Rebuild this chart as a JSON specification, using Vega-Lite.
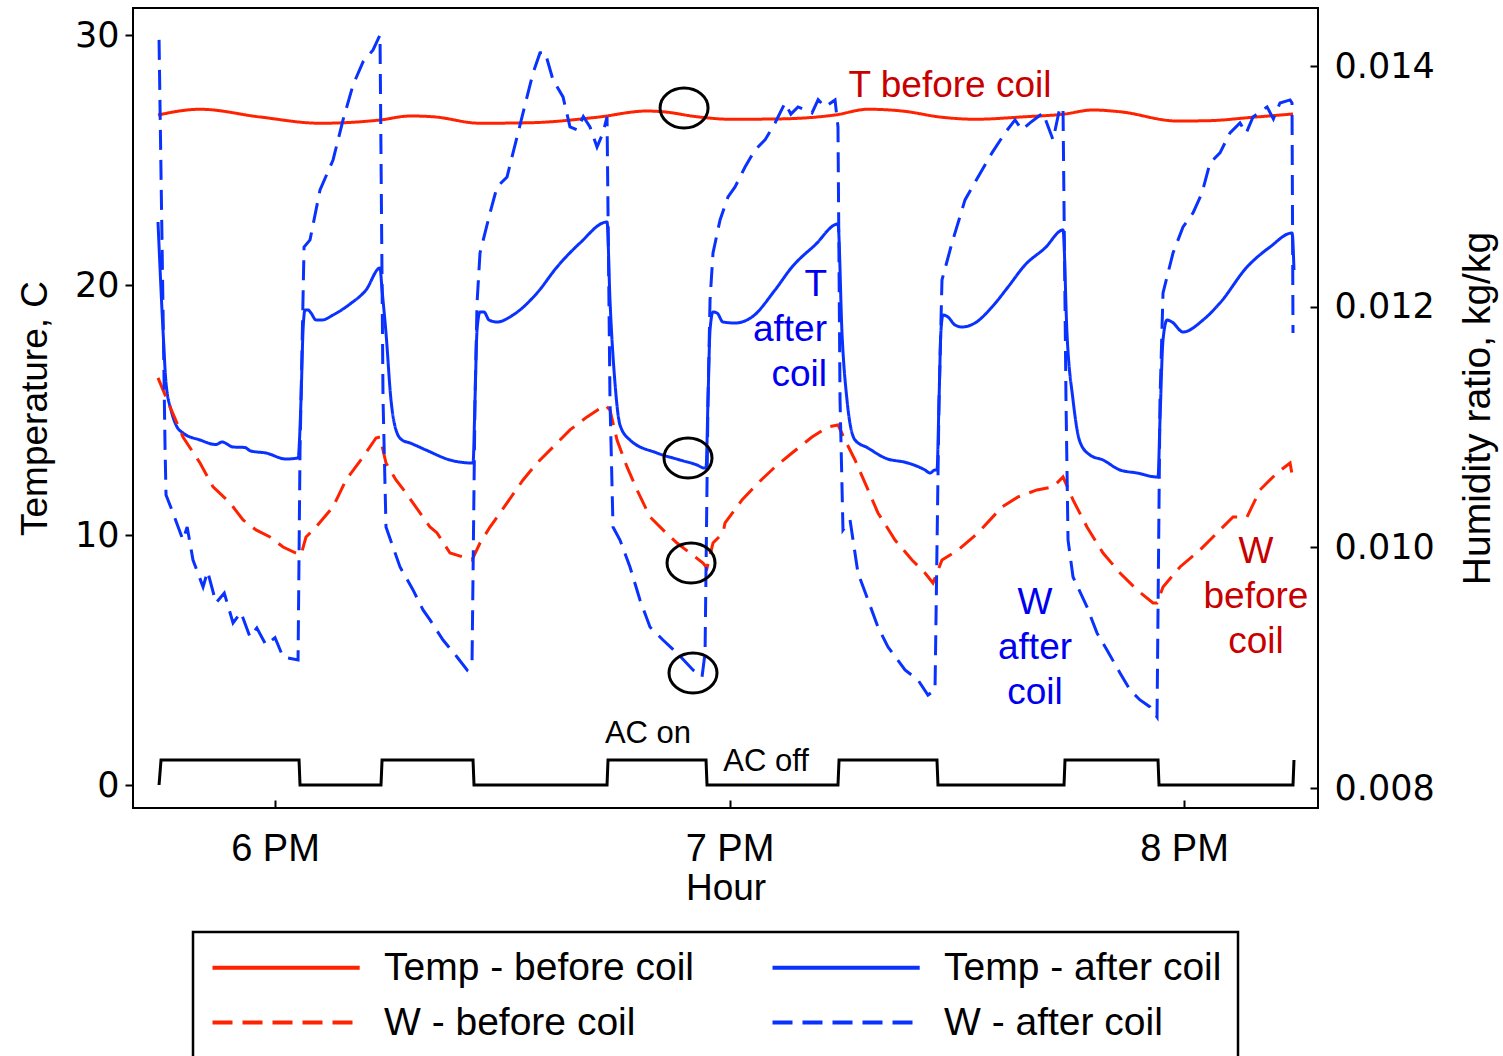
{
  "$schema": "https://vega.github.io/schema/vega-lite/v6.json",
  "width": 1185,
  "height": 800,
  "autosize": {"type": "none"},
  "padding": {"left": 133, "top": 8, "right": 185, "bottom": 248},
  "background": "white",
  "config": {
    "font": "Liberation Sans",
    "view": {"stroke": "black", "strokeWidth": 2},
    "axis": {
      "labelFontSize": 37, "titleFontSize": 37, "labelColor": "black", "titleColor": "black",
      "titleFontWeight": "normal", "domainColor": "black", "domainWidth": 2,
      "tickColor": "black", "tickWidth": 2, "grid": false, "labelFont": "Liberation Sans", "titleFont": "Liberation Sans"
    },
    "legend": {"strokeWidth": 2.5}
  },
  "datasets": {
    "lines": [
      {"s": "Temp - before coil", "m": 44.55, "v": 26.8},
      {"s": "Temp - before coil", "m": 50.10, "v": 27.03},
      {"s": "Temp - before coil", "m": 58.02, "v": 26.72},
      {"s": "Temp - before coil", "m": 65.94, "v": 26.47},
      {"s": "Temp - before coil", "m": 73.86, "v": 26.6},
      {"s": "Temp - before coil", "m": 77.82, "v": 26.76},
      {"s": "Temp - before coil", "m": 80.86, "v": 26.73},
      {"s": "Temp - before coil", "m": 87.06, "v": 26.47},
      {"s": "Temp - before coil", "m": 93.66, "v": 26.49},
      {"s": "Temp - before coil", "m": 102.51, "v": 26.71},
      {"s": "Temp - before coil", "m": 109.11, "v": 26.96},
      {"s": "Temp - before coil", "m": 111.22, "v": 26.93},
      {"s": "Temp - before coil", "m": 115.71, "v": 26.73},
      {"s": "Temp - before coil", "m": 120.07, "v": 26.63},
      {"s": "Temp - before coil", "m": 126.01, "v": 26.64},
      {"s": "Temp - before coil", "m": 133.93, "v": 26.8},
      {"s": "Temp - before coil", "m": 138.28, "v": 27.03},
      {"s": "Temp - before coil", "m": 142.77, "v": 26.96},
      {"s": "Temp - before coil", "m": 148.05, "v": 26.71},
      {"s": "Temp - before coil", "m": 152.41, "v": 26.63},
      {"s": "Temp - before coil", "m": 159.01, "v": 26.73},
      {"s": "Temp - before coil", "m": 164.03, "v": 26.83},
      {"s": "Temp - before coil", "m": 167.99, "v": 27.0},
      {"s": "Temp - before coil", "m": 171.55, "v": 26.93},
      {"s": "Temp - before coil", "m": 179.07, "v": 26.56},
      {"s": "Temp - before coil", "m": 183.04, "v": 26.57},
      {"s": "Temp - before coil", "m": 189.11, "v": 26.71},
      {"s": "Temp - before coil", "m": 194.39, "v": 26.84},

      {"s": "Temp - after coil", "m": 44.55, "v": 22.52},
      {"s": "Temp - after coil", "m": 45.21, "v": 18.2},
      {"s": "Temp - after coil", "m": 45.61, "v": 16.08},
      {"s": "Temp - after coil", "m": 46.27, "v": 15.0},
      {"s": "Temp - after coil", "m": 46.93, "v": 14.4},
      {"s": "Temp - after coil", "m": 47.85, "v": 14.08},
      {"s": "Temp - after coil", "m": 50.10, "v": 13.8},
      {"s": "Temp - after coil", "m": 52.20, "v": 13.62},
      {"s": "Temp - after coil", "m": 53.00, "v": 13.72},
      {"s": "Temp - after coil", "m": 54.46, "v": 13.52},
      {"s": "Temp - after coil", "m": 56.00, "v": 13.5},
      {"s": "Temp - after coil", "m": 56.80, "v": 13.36},
      {"s": "Temp - after coil", "m": 58.81, "v": 13.28},
      {"s": "Temp - after coil", "m": 61.45, "v": 13.04},
      {"s": "Temp - after coil", "m": 63.04, "v": 13.08},
      {"s": "Temp - after coil", "m": 63.43, "v": 15.4},
      {"s": "Temp - after coil", "m": 63.70, "v": 18.2},
      {"s": "Temp - after coil", "m": 63.96, "v": 19.0},
      {"s": "Temp - after coil", "m": 64.36, "v": 19.0},
      {"s": "Temp - after coil", "m": 64.75, "v": 18.88},
      {"s": "Temp - after coil", "m": 65.41, "v": 18.6},
      {"s": "Temp - after coil", "m": 66.20, "v": 18.6},
      {"s": "Temp - after coil", "m": 67.66, "v": 18.8},
      {"s": "Temp - after coil", "m": 69.90, "v": 19.24},
      {"s": "Temp - after coil", "m": 72.01, "v": 19.8},
      {"s": "Temp - after coil", "m": 73.86, "v": 20.68},
      {"s": "Temp - after coil", "m": 74.13, "v": 19.8},
      {"s": "Temp - after coil", "m": 74.65, "v": 18.08},
      {"s": "Temp - after coil", "m": 75.31, "v": 15.4},
      {"s": "Temp - after coil", "m": 75.97, "v": 14.2},
      {"s": "Temp - after coil", "m": 76.77, "v": 13.8},
      {"s": "Temp - after coil", "m": 77.82, "v": 13.68},
      {"s": "Temp - after coil", "m": 79.93, "v": 13.4},
      {"s": "Temp - after coil", "m": 83.10, "v": 13.0},
      {"s": "Temp - after coil", "m": 86.01, "v": 12.88},
      {"s": "Temp - after coil", "m": 86.14, "v": 12.88},
      {"s": "Temp - after coil", "m": 86.40, "v": 15.4},
      {"s": "Temp - after coil", "m": 86.67, "v": 18.2},
      {"s": "Temp - after coil", "m": 87.06, "v": 18.92},
      {"s": "Temp - after coil", "m": 87.59, "v": 18.92},
      {"s": "Temp - after coil", "m": 88.25, "v": 18.6},
      {"s": "Temp - after coil", "m": 89.31, "v": 18.52},
      {"s": "Temp - after coil", "m": 91.42, "v": 18.8},
      {"s": "Temp - after coil", "m": 94.59, "v": 19.68},
      {"s": "Temp - after coil", "m": 97.23, "v": 20.72},
      {"s": "Temp - after coil", "m": 100.26, "v": 21.68},
      {"s": "Temp - after coil", "m": 103.83, "v": 22.52},
      {"s": "Temp - after coil", "m": 104.22, "v": 19.4},
      {"s": "Temp - after coil", "m": 104.88, "v": 16.08},
      {"s": "Temp - after coil", "m": 105.54, "v": 14.4},
      {"s": "Temp - after coil", "m": 106.86, "v": 13.8},
      {"s": "Temp - after coil", "m": 110.43, "v": 13.28},
      {"s": "Temp - after coil", "m": 113.47, "v": 13.0},
      {"s": "Temp - after coil", "m": 115.71, "v": 12.8},
      {"s": "Temp - after coil", "m": 116.63, "v": 12.68},
      {"s": "Temp - after coil", "m": 116.90, "v": 12.68},
      {"s": "Temp - after coil", "m": 117.16, "v": 15.4},
      {"s": "Temp - after coil", "m": 117.43, "v": 18.2},
      {"s": "Temp - after coil", "m": 117.82, "v": 18.92},
      {"s": "Temp - after coil", "m": 118.35, "v": 18.88},
      {"s": "Temp - after coil", "m": 119.14, "v": 18.52},
      {"s": "Temp - after coil", "m": 120.73, "v": 18.48},
      {"s": "Temp - after coil", "m": 122.97, "v": 18.72},
      {"s": "Temp - after coil", "m": 126.01, "v": 19.8},
      {"s": "Temp - after coil", "m": 128.25, "v": 20.72},
      {"s": "Temp - after coil", "m": 131.29, "v": 21.6},
      {"s": "Temp - after coil", "m": 134.32, "v": 22.44},
      {"s": "Temp - after coil", "m": 134.85, "v": 18.08},
      {"s": "Temp - after coil", "m": 135.51, "v": 15.4},
      {"s": "Temp - after coil", "m": 136.57, "v": 13.8},
      {"s": "Temp - after coil", "m": 138.28, "v": 13.48},
      {"s": "Temp - after coil", "m": 140.53, "v": 13.08},
      {"s": "Temp - after coil", "m": 143.56, "v": 12.88},
      {"s": "Temp - after coil", "m": 145.81, "v": 12.6},
      {"s": "Temp - after coil", "m": 146.47, "v": 12.48},
      {"s": "Temp - after coil", "m": 147.13, "v": 12.6},
      {"s": "Temp - after coil", "m": 147.39, "v": 12.6},
      {"s": "Temp - after coil", "m": 147.66, "v": 15.4},
      {"s": "Temp - after coil", "m": 147.92, "v": 18.2},
      {"s": "Temp - after coil", "m": 148.19, "v": 18.8},
      {"s": "Temp - after coil", "m": 148.84, "v": 18.72},
      {"s": "Temp - after coil", "m": 149.77, "v": 18.4},
      {"s": "Temp - after coil", "m": 150.69, "v": 18.32},
      {"s": "Temp - after coil", "m": 152.41, "v": 18.48},
      {"s": "Temp - after coil", "m": 154.65, "v": 19.12},
      {"s": "Temp - after coil", "m": 156.77, "v": 19.92},
      {"s": "Temp - after coil", "m": 159.01, "v": 20.8},
      {"s": "Temp - after coil", "m": 161.65, "v": 21.48},
      {"s": "Temp - after coil", "m": 164.03, "v": 22.2},
      {"s": "Temp - after coil", "m": 164.55, "v": 18.08},
      {"s": "Temp - after coil", "m": 165.35, "v": 15.4},
      {"s": "Temp - after coil", "m": 166.27, "v": 13.72},
      {"s": "Temp - after coil", "m": 167.59, "v": 13.2},
      {"s": "Temp - after coil", "m": 169.31, "v": 13.0},
      {"s": "Temp - after coil", "m": 171.55, "v": 12.6},
      {"s": "Temp - after coil", "m": 173.80, "v": 12.48},
      {"s": "Temp - after coil", "m": 176.44, "v": 12.32},
      {"s": "Temp - after coil", "m": 176.57, "v": 12.32},
      {"s": "Temp - after coil", "m": 176.83, "v": 14.6},
      {"s": "Temp - after coil", "m": 177.23, "v": 17.8},
      {"s": "Temp - after coil", "m": 177.76, "v": 18.6},
      {"s": "Temp - after coil", "m": 178.42, "v": 18.52},
      {"s": "Temp - after coil", "m": 179.87, "v": 18.12},
      {"s": "Temp - after coil", "m": 182.51, "v": 18.6},
      {"s": "Temp - after coil", "m": 184.75, "v": 19.28},
      {"s": "Temp - after coil", "m": 188.32, "v": 20.72},
      {"s": "Temp - after coil", "m": 191.35, "v": 21.52},
      {"s": "Temp - after coil", "m": 194.26, "v": 22.08},
      {"s": "Temp - after coil", "m": 194.52, "v": 20.6},

      {"s": "W - before coil", "m": 44.55, "v": 0.011408},
      {"s": "W - before coil", "m": 46.14, "v": 0.011167},
      {"s": "W - before coil", "m": 47.85, "v": 0.010917},
      {"s": "W - before coil", "m": 50.10, "v": 0.010701},
      {"s": "W - before coil", "m": 51.82, "v": 0.010502},
      {"s": "W - before coil", "m": 54.06, "v": 0.010369},
      {"s": "W - before coil", "m": 55.78, "v": 0.010228},
      {"s": "W - before coil", "m": 57.49, "v": 0.010145},
      {"s": "W - before coil", "m": 59.34, "v": 0.010086},
      {"s": "W - before coil", "m": 61.06, "v": 0.010003},
      {"s": "W - before coil", "m": 62.77, "v": 0.009953},
      {"s": "W - before coil", "m": 63.43, "v": 0.009937},
      {"s": "W - before coil", "m": 64.09, "v": 0.010086},
      {"s": "W - before coil", "m": 65.41, "v": 0.010169},
      {"s": "W - before coil", "m": 67.66, "v": 0.010336},
      {"s": "W - before coil", "m": 69.37, "v": 0.010560},
      {"s": "W - before coil", "m": 71.62, "v": 0.010751},
      {"s": "W - before coil", "m": 73.33, "v": 0.010909},
      {"s": "W - before coil", "m": 73.86, "v": 0.010917},
      {"s": "W - before coil", "m": 74.65, "v": 0.010701},
      {"s": "W - before coil", "m": 75.97, "v": 0.010560},
      {"s": "W - before coil", "m": 77.29, "v": 0.010452},
      {"s": "W - before coil", "m": 79.14, "v": 0.010286},
      {"s": "W - before coil", "m": 80.46, "v": 0.010169},
      {"s": "W - before coil", "m": 81.39, "v": 0.010120},
      {"s": "W - before coil", "m": 83.10, "v": 0.009953},
      {"s": "W - before coil", "m": 84.82, "v": 0.009920},
      {"s": "W - before coil", "m": 86.01, "v": 0.009895},
      {"s": "W - before coil", "m": 87.06, "v": 0.010036},
      {"s": "W - before coil", "m": 88.38, "v": 0.010169},
      {"s": "W - before coil", "m": 90.63, "v": 0.010369},
      {"s": "W - before coil", "m": 92.74, "v": 0.010560},
      {"s": "W - before coil", "m": 94.59, "v": 0.010701},
      {"s": "W - before coil", "m": 96.70, "v": 0.010834},
      {"s": "W - before coil", "m": 98.94, "v": 0.010976},
      {"s": "W - before coil", "m": 101.19, "v": 0.011084},
      {"s": "W - before coil", "m": 103.56, "v": 0.011183},
      {"s": "W - before coil", "m": 104.22, "v": 0.011142},
      {"s": "W - before coil", "m": 105.15, "v": 0.010892},
      {"s": "W - before coil", "m": 106.47, "v": 0.010668},
      {"s": "W - before coil", "m": 107.79, "v": 0.010477},
      {"s": "W - before coil", "m": 109.50, "v": 0.010253},
      {"s": "W - before coil", "m": 111.22, "v": 0.010145},
      {"s": "W - before coil", "m": 113.07, "v": 0.010036},
      {"s": "W - before coil", "m": 114.79, "v": 0.009953},
      {"s": "W - before coil", "m": 116.50, "v": 0.009870},
      {"s": "W - before coil", "m": 117.03, "v": 0.009829},
      {"s": "W - before coil", "m": 117.82, "v": 0.010036},
      {"s": "W - before coil", "m": 119.14, "v": 0.010120},
      {"s": "W - before coil", "m": 119.41, "v": 0.010203},
      {"s": "W - before coil", "m": 121.65, "v": 0.010394},
      {"s": "W - before coil", "m": 123.76, "v": 0.010535},
      {"s": "W - before coil", "m": 126.01, "v": 0.010668},
      {"s": "W - before coil", "m": 128.25, "v": 0.010784},
      {"s": "W - before coil", "m": 130.89, "v": 0.010917},
      {"s": "W - before coil", "m": 133.00, "v": 0.011000},
      {"s": "W - before coil", "m": 134.32, "v": 0.011017},
      {"s": "W - before coil", "m": 135.25, "v": 0.010892},
      {"s": "W - before coil", "m": 136.57, "v": 0.010726},
      {"s": "W - before coil", "m": 137.89, "v": 0.010535},
      {"s": "W - before coil", "m": 139.60, "v": 0.010286},
      {"s": "W - before coil", "m": 141.85, "v": 0.010061},
      {"s": "W - before coil", "m": 144.09, "v": 0.009895},
      {"s": "W - before coil", "m": 145.81, "v": 0.009787},
      {"s": "W - before coil", "m": 146.86, "v": 0.009704},
      {"s": "W - before coil", "m": 148.05, "v": 0.009895},
      {"s": "W - before coil", "m": 150.17, "v": 0.009978},
      {"s": "W - before coil", "m": 152.81, "v": 0.010120},
      {"s": "W - before coil", "m": 155.97, "v": 0.010336},
      {"s": "W - before coil", "m": 158.09, "v": 0.010419},
      {"s": "W - before coil", "m": 160.59, "v": 0.010477},
      {"s": "W - before coil", "m": 162.71, "v": 0.010502},
      {"s": "W - before coil", "m": 164.03, "v": 0.010585},
      {"s": "W - before coil", "m": 165.35, "v": 0.010394},
      {"s": "W - before coil", "m": 167.19, "v": 0.010169},
      {"s": "W - before coil", "m": 169.31, "v": 0.009953},
      {"s": "W - before coil", "m": 171.55, "v": 0.009787},
      {"s": "W - before coil", "m": 173.80, "v": 0.009646},
      {"s": "W - before coil", "m": 175.91, "v": 0.009538},
      {"s": "W - before coil", "m": 176.44, "v": 0.009538},
      {"s": "W - before coil", "m": 177.23, "v": 0.009671},
      {"s": "W - before coil", "m": 179.47, "v": 0.009837},
      {"s": "W - before coil", "m": 182.11, "v": 0.009978},
      {"s": "W - before coil", "m": 184.75, "v": 0.010145},
      {"s": "W - before coil", "m": 186.47, "v": 0.010253},
      {"s": "W - before coil", "m": 188.32, "v": 0.010253},
      {"s": "W - before coil", "m": 190.03, "v": 0.010477},
      {"s": "W - before coil", "m": 192.28, "v": 0.010618},
      {"s": "W - before coil", "m": 194.00, "v": 0.010701},
      {"s": "W - before coil", "m": 194.39, "v": 0.010560},

      {"s": "W - after coil", "m": 44.69, "v": 0.014217},
      {"s": "W - after coil", "m": 45.48, "v": 0.010834},
      {"s": "W - after coil", "m": 45.61, "v": 0.010435},
      {"s": "W - after coil", "m": 46.53, "v": 0.010286},
      {"s": "W - after coil", "m": 47.85, "v": 0.010061},
      {"s": "W - after coil", "m": 48.40, "v": 0.010170},
      {"s": "W - after coil", "m": 49.17, "v": 0.009895},
      {"s": "W - after coil", "m": 50.50, "v": 0.009671},
      {"s": "W - after coil", "m": 51.10, "v": 0.009800},
      {"s": "W - after coil", "m": 52.21, "v": 0.009538},
      {"s": "W - after coil", "m": 53.30, "v": 0.009620},
      {"s": "W - after coil", "m": 54.46, "v": 0.009372},
      {"s": "W - after coil", "m": 55.50, "v": 0.009460},
      {"s": "W - after coil", "m": 56.70, "v": 0.009255},
      {"s": "W - after coil", "m": 57.60, "v": 0.009330},
      {"s": "W - after coil", "m": 58.81, "v": 0.009189},
      {"s": "W - after coil", "m": 60.00, "v": 0.009250},
      {"s": "W - after coil", "m": 61.06, "v": 0.009089},
      {"s": "W - after coil", "m": 63.04, "v": 0.009064},
      {"s": "W - after coil", "m": 63.30, "v": 0.010809},
      {"s": "W - after coil", "m": 63.83, "v": 0.012496},
      {"s": "W - after coil", "m": 64.62, "v": 0.012555},
      {"s": "W - after coil", "m": 65.94, "v": 0.012970},
      {"s": "W - after coil", "m": 67.66, "v": 0.013219},
      {"s": "W - after coil", "m": 68.98, "v": 0.013552},
      {"s": "W - after coil", "m": 70.30, "v": 0.013843},
      {"s": "W - after coil", "m": 71.62, "v": 0.014034},
      {"s": "W - after coil", "m": 72.94, "v": 0.014133},
      {"s": "W - after coil", "m": 73.86, "v": 0.014258},
      {"s": "W - after coil", "m": 74.26, "v": 0.011225},
      {"s": "W - after coil", "m": 74.65, "v": 0.010169},
      {"s": "W - after coil", "m": 76.50, "v": 0.009837},
      {"s": "W - after coil", "m": 78.22, "v": 0.009646},
      {"s": "W - after coil", "m": 79.54, "v": 0.009480},
      {"s": "W - after coil", "m": 80.46, "v": 0.009397},
      {"s": "W - after coil", "m": 82.18, "v": 0.009230},
      {"s": "W - after coil", "m": 84.03, "v": 0.009089},
      {"s": "W - after coil", "m": 85.35, "v": 0.008981},
      {"s": "W - after coil", "m": 86.01, "v": 0.009048},
      {"s": "W - after coil", "m": 86.40, "v": 0.011225},
      {"s": "W - after coil", "m": 86.67, "v": 0.012031},
      {"s": "W - after coil", "m": 87.06, "v": 0.012446},
      {"s": "W - after coil", "m": 88.38, "v": 0.012779},
      {"s": "W - after coil", "m": 89.31, "v": 0.012995},
      {"s": "W - after coil", "m": 90.63, "v": 0.013078},
      {"s": "W - after coil", "m": 91.42, "v": 0.013278},
      {"s": "W - after coil", "m": 92.74, "v": 0.013610},
      {"s": "W - after coil", "m": 94.06, "v": 0.013942},
      {"s": "W - after coil", "m": 94.98, "v": 0.014109},
      {"s": "W - after coil", "m": 95.64, "v": 0.014117},
      {"s": "W - after coil", "m": 96.70, "v": 0.013884},
      {"s": "W - after coil", "m": 98.02, "v": 0.013743},
      {"s": "W - after coil", "m": 98.94, "v": 0.013494},
      {"s": "W - after coil", "m": 99.87, "v": 0.013469},
      {"s": "W - after coil", "m": 100.70, "v": 0.013580},
      {"s": "W - after coil", "m": 101.58, "v": 0.013494},
      {"s": "W - after coil", "m": 102.51, "v": 0.013327},
      {"s": "W - after coil", "m": 103.30, "v": 0.013444},
      {"s": "W - after coil", "m": 103.83, "v": 0.013577},
      {"s": "W - after coil", "m": 104.22, "v": 0.011225},
      {"s": "W - after coil", "m": 104.62, "v": 0.010169},
      {"s": "W - after coil", "m": 105.54, "v": 0.010061},
      {"s": "W - after coil", "m": 106.86, "v": 0.009837},
      {"s": "W - after coil", "m": 108.18, "v": 0.009563},
      {"s": "W - after coil", "m": 109.50, "v": 0.009338},
      {"s": "W - after coil", "m": 111.22, "v": 0.009230},
      {"s": "W - after coil", "m": 113.07, "v": 0.009122},
      {"s": "W - after coil", "m": 115.18, "v": 0.008981},
      {"s": "W - after coil", "m": 116.37, "v": 0.008923},
      {"s": "W - after coil", "m": 116.77, "v": 0.009122},
      {"s": "W - after coil", "m": 117.16, "v": 0.011225},
      {"s": "W - after coil", "m": 117.43, "v": 0.012056},
      {"s": "W - after coil", "m": 117.82, "v": 0.012446},
      {"s": "W - after coil", "m": 118.75, "v": 0.012721},
      {"s": "W - after coil", "m": 119.80, "v": 0.012912},
      {"s": "W - after coil", "m": 120.73, "v": 0.012995},
      {"s": "W - after coil", "m": 122.05, "v": 0.013161},
      {"s": "W - after coil", "m": 123.37, "v": 0.013302},
      {"s": "W - after coil", "m": 124.69, "v": 0.013386},
      {"s": "W - after coil", "m": 126.01, "v": 0.013527},
      {"s": "W - after coil", "m": 127.33, "v": 0.013693},
      {"s": "W - after coil", "m": 128.10, "v": 0.013600},
      {"s": "W - after coil", "m": 129.04, "v": 0.013660},
      {"s": "W - after coil", "m": 130.89, "v": 0.013610},
      {"s": "W - after coil", "m": 131.70, "v": 0.013720},
      {"s": "W - after coil", "m": 132.61, "v": 0.013660},
      {"s": "W - after coil", "m": 133.93, "v": 0.013718},
      {"s": "W - after coil", "m": 134.32, "v": 0.013494},
      {"s": "W - after coil", "m": 134.59, "v": 0.011225},
      {"s": "W - after coil", "m": 134.98, "v": 0.010145},
      {"s": "W - after coil", "m": 135.91, "v": 0.010228},
      {"s": "W - after coil", "m": 136.96, "v": 0.009787},
      {"s": "W - after coil", "m": 138.28, "v": 0.009563},
      {"s": "W - after coil", "m": 139.60, "v": 0.009338},
      {"s": "W - after coil", "m": 140.92, "v": 0.009172},
      {"s": "W - after coil", "m": 143.17, "v": 0.008981},
      {"s": "W - after coil", "m": 144.88, "v": 0.008898},
      {"s": "W - after coil", "m": 146.20, "v": 0.008773},
      {"s": "W - after coil", "m": 147.13, "v": 0.008815},
      {"s": "W - after coil", "m": 147.66, "v": 0.011225},
      {"s": "W - after coil", "m": 148.05, "v": 0.012222},
      {"s": "W - after coil", "m": 149.37, "v": 0.012530},
      {"s": "W - after coil", "m": 151.09, "v": 0.012887},
      {"s": "W - after coil", "m": 152.81, "v": 0.013078},
      {"s": "W - after coil", "m": 154.65, "v": 0.013278},
      {"s": "W - after coil", "m": 156.37, "v": 0.013444},
      {"s": "W - after coil", "m": 157.69, "v": 0.013552},
      {"s": "W - after coil", "m": 158.60, "v": 0.013470},
      {"s": "W - after coil", "m": 159.67, "v": 0.013527},
      {"s": "W - after coil", "m": 161.39, "v": 0.013610},
      {"s": "W - after coil", "m": 162.71, "v": 0.013386},
      {"s": "W - after coil", "m": 163.63, "v": 0.013660},
      {"s": "W - after coil", "m": 164.03, "v": 0.013635},
      {"s": "W - after coil", "m": 164.42, "v": 0.011225},
      {"s": "W - after coil", "m": 164.69, "v": 0.010061},
      {"s": "W - after coil", "m": 165.35, "v": 0.009754},
      {"s": "W - after coil", "m": 167.19, "v": 0.009505},
      {"s": "W - after coil", "m": 168.51, "v": 0.009289},
      {"s": "W - after coil", "m": 169.83, "v": 0.009147},
      {"s": "W - after coil", "m": 171.55, "v": 0.008956},
      {"s": "W - after coil", "m": 172.87, "v": 0.008815},
      {"s": "W - after coil", "m": 174.19, "v": 0.008732},
      {"s": "W - after coil", "m": 175.51, "v": 0.008674},
      {"s": "W - after coil", "m": 176.44, "v": 0.008590},
      {"s": "W - after coil", "m": 176.83, "v": 0.011225},
      {"s": "W - after coil", "m": 177.23, "v": 0.012114},
      {"s": "W - after coil", "m": 178.55, "v": 0.012446},
      {"s": "W - after coil", "m": 179.87, "v": 0.012663},
      {"s": "W - after coil", "m": 181.19, "v": 0.012779},
      {"s": "W - after coil", "m": 182.38, "v": 0.012945},
      {"s": "W - after coil", "m": 183.43, "v": 0.013194},
      {"s": "W - after coil", "m": 184.75, "v": 0.013278},
      {"s": "W - after coil", "m": 186.07, "v": 0.013444},
      {"s": "W - after coil", "m": 187.39, "v": 0.013527},
      {"s": "W - after coil", "m": 188.20, "v": 0.013440},
      {"s": "W - after coil", "m": 189.11, "v": 0.013577},
      {"s": "W - after coil", "m": 190.96, "v": 0.013660},
      {"s": "W - after coil", "m": 191.80, "v": 0.013560},
      {"s": "W - after coil", "m": 192.67, "v": 0.013693},
      {"s": "W - after coil", "m": 194.00, "v": 0.013718},
      {"s": "W - after coil", "m": 194.26, "v": 0.013693},
      {"s": "W - after coil", "m": 194.39, "v": 0.011782}
    ],
    "ac": [
      {"m": 44.69, "v": 0}, {"m": 44.95, "v": 1}, {"m": 63.17, "v": 1}, {"m": 63.30, "v": 0},
      {"m": 73.99, "v": 0}, {"m": 74.13, "v": 1}, {"m": 86.14, "v": 1}, {"m": 86.27, "v": 0},
      {"m": 103.83, "v": 0}, {"m": 103.96, "v": 1}, {"m": 116.90, "v": 1}, {"m": 117.03, "v": 0},
      {"m": 134.32, "v": 0}, {"m": 134.46, "v": 1}, {"m": 147.39, "v": 1}, {"m": 147.52, "v": 0},
      {"m": 164.16, "v": 0}, {"m": 164.29, "v": 1}, {"m": 176.57, "v": 1}, {"m": 176.70, "v": 0},
      {"m": 194.39, "v": 0}, {"m": 194.52, "v": 1}
    ],
    "circ": [
      {"m": 114.0, "v": 27.08},
      {"m": 114.52, "v": 13.08},
      {"m": 114.92, "v": 8.88},
      {"m": 115.18, "v": 4.48}
    ],
    "notes": [
      {"k": "redc", "m": 149.11, "v": 27.96, "t": "T before coil"},
      {"k": "redc", "m": 189.50, "v": 9.32, "t": "W\nbefore\ncoil"},
      {"k": "bluer", "m": 132.87, "v": 20.0, "t": "T\nafter\ncoil"},
      {"k": "bluec", "m": 160.33, "v": 7.28, "t": "W\nafter\ncoil"},
      {"k": "black", "m": 109.24, "v": 2.04, "t": "AC on"},
      {"k": "black", "m": 124.82, "v": 0.92, "t": "AC off"}
    ]
  },
  "layer": [
    {
      "data": {"name": "lines"},
      "transform": [{"filter": "indexof(datum.s, 'Temp') == 0"}],
      "mark": {"type": "line", "strokeWidth": 3, "interpolate": "monotone"},
      "encoding": {
        "x": {
          "field": "m", "type": "quantitative",
          "scale": {"domain": [41.25, 197.69], "nice": false, "zero": false},
          "axis": {"values": [60, 120, 180], "labelExpr": "(datum.value/60+5) + ' PM'", "title": "Hour", "labelFontSize": 38, "tickSize": -8, "labelPadding": 30, "titlePadding": 2, "domain": false}
        },
        "y": {
          "field": "v", "type": "quantitative",
          "scale": {"domain": [-0.92, 31.08], "nice": false, "zero": false},
          "axis": {"orient": "left", "values": [0, 10, 20, 30], "title": "Temperature, C", "labelFont": "DejaVu Sans", "labelFontSize": 35, "tickSize": 8, "labelPadding": 6, "titlePadding": 20, "domain": false}
        },
        "color": {
          "field": "s", "type": "nominal",
          "scale": {"domain": ["Temp - before coil", "W - before coil", "Temp - after coil", "W - after coil"], "range": ["#ff2200", "#ff2200", "#0a32ff", "#0a32ff"]},
          "legend": {"orient": "none", "legendX": 60, "legendY": 924, "direction": "vertical", "columns": 2, "symbolType": "M -1 0 L 8.2 0", "symbolSize": 1024, "symbolStrokeWidth": 4, "labelFontSize": 39, "labelColor": "black", "labelOffset": 136, "columnPadding": 70, "rowPadding": 15, "padding": 16, "strokeColor": "black", "title": null, "labelLimit": 600}
        },
        "strokeDash": {
          "field": "s", "type": "nominal",
          "scale": {"domain": ["Temp - before coil", "W - before coil", "Temp - after coil", "W - after coil"], "range": [[1, 0], [20, 10], [1, 0], [20, 10]]},
          "legend": {"orient": "none", "legendX": 60, "legendY": 924, "direction": "vertical", "columns": 2, "symbolType": "M -1 0 L 8.2 0", "symbolSize": 1024, "symbolStrokeWidth": 4, "labelFontSize": 39, "labelColor": "black", "labelOffset": 136, "columnPadding": 70, "rowPadding": 15, "padding": 16, "strokeColor": "black", "title": null, "labelLimit": 600}
        }
      }
    },
    {
      "data": {"name": "lines"},
      "transform": [{"filter": "indexof(datum.s, 'W') == 0"}],
      "mark": {"type": "line", "strokeWidth": 3},
      "encoding": {
        "x": {
          "field": "m", "type": "quantitative",
          "scale": {"domain": [41.25, 197.69], "nice": false, "zero": false},
          "axis": {"values": [60, 120, 180], "labelExpr": "(datum.value/60+5) + ' PM'", "title": "Hour", "labelFontSize": 38, "tickSize": -8, "labelPadding": 30, "titlePadding": 2, "domain": false}
        },
        "y": {
          "field": "v", "type": "quantitative",
          "scale": {"domain": [0.007834, 0.014482], "nice": false, "zero": false},
          "axis": {"orient": "right", "values": [0.008, 0.010, 0.012, 0.014], "format": ".3f", "title": "Humidity ratio, kg/kg", "titleFontSize": 39, "titleAngle": 270, "titleBaseline": "top", "labelFont": "DejaVu Sans", "labelFontSize": 35, "tickSize": -8, "labelPadding": 24, "titlePadding": 24, "domain": false}
        },
        "color": {
          "field": "s", "type": "nominal",
          "scale": {"domain": ["Temp - before coil", "W - before coil", "Temp - after coil", "W - after coil"], "range": ["#ff2200", "#ff2200", "#0a32ff", "#0a32ff"]},
          "legend": {"orient": "none", "legendX": 60, "legendY": 924, "direction": "vertical", "columns": 2, "symbolType": "M -1 0 L 8.2 0", "symbolSize": 1024, "symbolStrokeWidth": 4, "labelFontSize": 39, "labelColor": "black", "labelOffset": 136, "columnPadding": 70, "rowPadding": 15, "padding": 16, "strokeColor": "black", "title": null, "labelLimit": 600}
        },
        "strokeDash": {
          "field": "s", "type": "nominal",
          "scale": {"domain": ["Temp - before coil", "W - before coil", "Temp - after coil", "W - after coil"], "range": [[1, 0], [20, 10], [1, 0], [20, 10]]},
          "legend": {"orient": "none", "legendX": 60, "legendY": 924, "direction": "vertical", "columns": 2, "symbolType": "M -1 0 L 8.2 0", "symbolSize": 1024, "symbolStrokeWidth": 4, "labelFontSize": 39, "labelColor": "black", "labelOffset": 136, "columnPadding": 70, "rowPadding": 15, "padding": 16, "strokeColor": "black", "title": null, "labelLimit": 600}
        }
      }
    },
    {
      "data": {"name": "ac"},
      "mark": {"type": "line", "color": "black", "strokeWidth": 3},
      "encoding": {
        "x": {
          "field": "m", "type": "quantitative",
          "scale": {"domain": [41.25, 197.69], "nice": false, "zero": false},
          "axis": {"values": [60, 120, 180], "labelExpr": "(datum.value/60+5) + ' PM'", "title": "Hour", "labelFontSize": 38, "tickSize": -8, "labelPadding": 30, "titlePadding": 2, "domain": false}
        },
        "y": {"field": "v", "type": "quantitative", "scale": {"domain": [-0.92, 31.08], "nice": false, "zero": false}, "axis": null}
      }
    },
    {
      "data": {"name": "circ"},
      "mark": {"type": "point", "shape": "M -1.2 0 A 1.2 1 0 1 1 1.2 0 A 1.2 1 0 1 1 -1.2 0 Z", "size": 1600, "filled": false, "stroke": "black", "strokeWidth": 3, "opacity": 1},
      "encoding": {
        "x": {
          "field": "m", "type": "quantitative",
          "scale": {"domain": [41.25, 197.69], "nice": false, "zero": false},
          "axis": {"values": [60, 120, 180], "labelExpr": "(datum.value/60+5) + ' PM'", "title": "Hour", "labelFontSize": 38, "tickSize": -8, "labelPadding": 30, "titlePadding": 2, "domain": false}
        },
        "y": {"field": "v", "type": "quantitative", "scale": {"domain": [-0.92, 31.08], "nice": false, "zero": false}, "axis": null}
      }
    },
    {
      "data": {"name": "notes"},
      "transform": [{"filter": "datum.k == 'redc'"}],
      "mark": {"type": "text", "color": "#c80000", "fontSize": 37, "align": "center", "baseline": "middle", "lineBreak": "\n", "lineHeight": 45},
      "encoding": {
        "x": {
          "field": "m", "type": "quantitative",
          "scale": {"domain": [41.25, 197.69], "nice": false, "zero": false},
          "axis": {"values": [60, 120, 180], "labelExpr": "(datum.value/60+5) + ' PM'", "title": "Hour", "labelFontSize": 38, "tickSize": -8, "labelPadding": 30, "titlePadding": 2, "domain": false}
        },
        "y": {"field": "v", "type": "quantitative", "scale": {"domain": [-0.92, 31.08], "nice": false, "zero": false}, "axis": null},
        "text": {"field": "t"}
      }
    },
    {
      "data": {"name": "notes"},
      "transform": [{"filter": "datum.k == 'bluec'"}],
      "mark": {"type": "text", "color": "#0000f0", "fontSize": 37, "align": "center", "baseline": "middle", "lineBreak": "\n", "lineHeight": 45},
      "encoding": {
        "x": {
          "field": "m", "type": "quantitative",
          "scale": {"domain": [41.25, 197.69], "nice": false, "zero": false},
          "axis": {"values": [60, 120, 180], "labelExpr": "(datum.value/60+5) + ' PM'", "title": "Hour", "labelFontSize": 38, "tickSize": -8, "labelPadding": 30, "titlePadding": 2, "domain": false}
        },
        "y": {"field": "v", "type": "quantitative", "scale": {"domain": [-0.92, 31.08], "nice": false, "zero": false}, "axis": null},
        "text": {"field": "t"}
      }
    },
    {
      "data": {"name": "notes"},
      "transform": [{"filter": "datum.k == 'bluer'"}],
      "mark": {"type": "text", "color": "#0000f0", "fontSize": 37, "align": "right", "baseline": "middle", "lineBreak": "\n", "lineHeight": 45},
      "encoding": {
        "x": {
          "field": "m", "type": "quantitative",
          "scale": {"domain": [41.25, 197.69], "nice": false, "zero": false},
          "axis": {"values": [60, 120, 180], "labelExpr": "(datum.value/60+5) + ' PM'", "title": "Hour", "labelFontSize": 38, "tickSize": -8, "labelPadding": 30, "titlePadding": 2, "domain": false}
        },
        "y": {"field": "v", "type": "quantitative", "scale": {"domain": [-0.92, 31.08], "nice": false, "zero": false}, "axis": null},
        "text": {"field": "t"}
      }
    },
    {
      "data": {"name": "notes"},
      "transform": [{"filter": "datum.k == 'black'"}],
      "mark": {"type": "text", "color": "black", "fontSize": 31, "align": "center", "baseline": "middle"},
      "encoding": {
        "x": {
          "field": "m", "type": "quantitative",
          "scale": {"domain": [41.25, 197.69], "nice": false, "zero": false},
          "axis": {"values": [60, 120, 180], "labelExpr": "(datum.value/60+5) + ' PM'", "title": "Hour", "labelFontSize": 38, "tickSize": -8, "labelPadding": 30, "titlePadding": 2, "domain": false}
        },
        "y": {"field": "v", "type": "quantitative", "scale": {"domain": [-0.92, 31.08], "nice": false, "zero": false}, "axis": null},
        "text": {"field": "t"}
      }
    }
  ],
  "resolve": {"scale": {"y": "independent"}}
}
